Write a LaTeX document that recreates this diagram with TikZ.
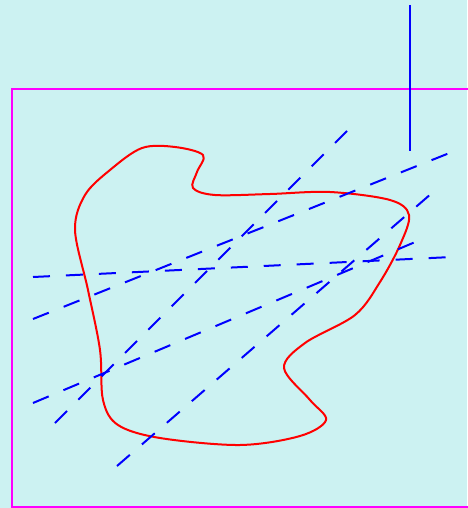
\documentclass[tikz,border=0pt]{standalone}
\usepackage{tikz}
\definecolor{bgcyan}{RGB}{204,242,242}
\definecolor{framemag}{RGB}{255,0,255}

\begin{document}
\begin{tikzpicture}[x=1pt,y=-1pt,
  frame/.style={draw=framemag,line width=2pt},
  ray/.style={draw=blue,line width=2pt,dash pattern=on 17pt off 16pt},
  blob/.style={draw=red,line width=2pt,smooth cycle,tension=0.55}
]
\fill[bgcyan] (0,0) rectangle (467,508);
\useasboundingbox (0,0) rectangle (467,508);
\draw[frame] (12,89) rectangle (480,507);
\draw[blue,line width=2pt] (410,5) -- (410,151);

\draw[blob] plot coordinates {(142,148) (175,147) (203,155) (197,172) (193,188)
  (215,195) (270,194) (330,192) (390,200) (409,215) (400,245) (380,282)
  (355,315) (305,343) (284,368) (310,400) (326,420) (300,436) (240,445)
  (160,438) (118,425) (103,400) (100,350) (88,290) (75,230) (85,195) (110,170)};

\coordinate (r1a) at (33,277);  \coordinate (r1b) at (452,257);
\coordinate (r2a) at (33,319);  \coordinate (r2b) at (452,152);
\coordinate (r3a) at (55,423);  \coordinate (r3b) at (348,130);
\coordinate (r4a) at (33,403);  \coordinate (r4b) at (420,240);
\coordinate (r5a) at (117,466); \coordinate (r5b) at (432,193);
\foreach \i in {1,...,5}
  \draw[ray] (r\i a) -- (r\i b);
\end{tikzpicture}
\end{document}
